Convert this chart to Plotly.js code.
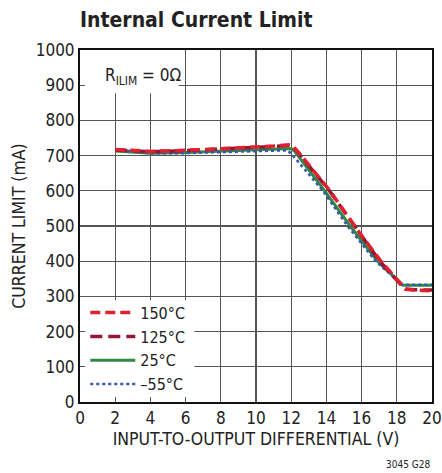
<!DOCTYPE html>
<html>
<head>
<meta charset="utf-8">
<script src="https://cdn.plot.ly/plotly-3.0.1.min.js"></script>
<style>html,body{margin:0;padding:0;background:#fff;}#chart{width:442px;height:473px;}</style>
</head>
<body>
<div id="chart"></div>
<script>
const FONT = "DejaVu Sans Condensed, Liberation Sans Narrow, Arial Narrow, sans-serif";

const xTicks = [0, 2, 4, 6, 8, 10, 12, 14, 16, 18, 20];
const yTicks = [0, 100, 200, 300, 400, 500, 600, 700, 800, 900, 1000];

const x150 = [2, 3, 4, 6, 8, 10, 11, 12, 12.3, 14.2, 15.6, 17.05, 18.5, 19, 20];
const y150 = [717, 714, 712, 715, 719, 724, 727, 731, 716, 600, 500, 403, 320, 318, 316];

const x125 = [2, 3, 4, 6, 8, 10, 11, 12, 12.3, 14.2, 15.6, 17.0, 18.45, 19, 20];
const y125 = [716, 713, 711, 714, 718, 723, 726, 729, 714, 598, 499, 402, 321, 319, 318];

const x25 = [2, 4, 6, 8, 10, 12, 12.2, 13.9, 15.35, 16.9, 18.35, 19, 20];
const y25 = [713, 707, 709, 713, 717, 720, 712, 600, 500, 400, 332, 332, 332];

const xm55 = [2, 4, 6, 8, 10, 11.8, 12.1, 13.8, 15.2, 16.8, 18.3, 19, 20];
const ym55 = [717, 707, 707, 710, 714, 715, 700, 600, 500, 400, 333, 333, 333];

const traces = [
  {x: x25, y: y25, name: "25°C", legendrank: 3, mode: "lines",
   line: {color: "#2f8a45", width: 3, dash: "solid"}},
  {x: xm55, y: ym55, name: "–55°C", legendrank: 4, mode: "lines",
   line: {color: "#3557b0", width: 2.5, dash: "dot"}},
  {x: x125, y: y125, name: "125°C", legendrank: 2, mode: "lines",
   line: {color: "#961634", width: 3.5, dash: "12px,6px"}},
  {x: x150, y: y150, name: "150°C", legendrank: 1, mode: "lines",
   line: {color: "#e0202e", width: 3.5, dash: "10px,5px"}}
];

const layout = {
  width: 442, height: 473,
  margin: {l: 80, r: 10, t: 50, b: 71},
  paper_bgcolor: "#fff", plot_bgcolor: "#fff",
  font: {family: FONT, color: "#222", size: 16},
  title: {text: "<b>Internal Current Limit</b>", x: 0.181, xanchor: "left", y: 0.958, yanchor: "middle",
          font: {family: FONT, size: 21, color: "#222"}},
  xaxis: {range: [0, 20], tickvals: xTicks, ticktext: xTicks.map(String),
          showgrid: true, gridcolor: "#555", gridwidth: 1.3,
          showline: true, linecolor: "#111", linewidth: 2, mirror: true,
          ticks: "inside", ticklen: 5, tickcolor: "#555", tickwidth: 1.3,
          zeroline: false, tickfont: {size: 17, family: FONT, color: "#222"},
          title: {text: "INPUT-TO-OUTPUT DIFFERENTIAL (V)", standoff: 5,
                  font: {size: 17.5, family: FONT, color: "#222"}}},
  yaxis: {range: [0, 1000], tickvals: yTicks, ticktext: yTicks.map(String),
          showgrid: true, gridcolor: "#555", gridwidth: 1.3,
          showline: true, linecolor: "#111", linewidth: 2, mirror: true,
          ticks: "inside", ticklen: 5, tickcolor: "#555", tickwidth: 1.3,
          zeroline: false, tickfont: {size: 17, family: FONT, color: "#222"},
          title: {text: "CURRENT LIMIT (mA)", standoff: 6,
                  font: {size: 17.5, family: FONT, color: "#222"}}},
  showlegend: true,
  legend: {x: 0.015, y: 0.302, xanchor: "left", yanchor: "top",
           bgcolor: "rgba(0,0,0,0)", borderwidth: 0, itemwidth: 45,
           font: {size: 16, family: FONT, color: "#222"}, tracegroupgap: 0},
  shapes: [
    {type: "rect", xref: "x", yref: "y", x0: 0, x1: 6.5, y0: 0, y1: 290,
     fillcolor: "#fff", line: {width: 0}, layer: "between"},
    {type: "rect", xref: "x", yref: "y", x0: 0, x1: 5.6, y0: 877, y1: 1000,
     fillcolor: "#fff", line: {width: 0}, layer: "between"}
  ],
  annotations: [
    {xref: "x", yref: "y", x: 1.3, y: 925, xanchor: "left", yanchor: "middle", showarrow: false,
     text: "R<sub>ILIM</sub> = 0Ω", font: {size: 17, family: FONT, color: "#222"}},
    {xref: "paper", yref: "paper", x: 1.0, y: -0.155, xanchor: "right", yanchor: "top", showarrow: false,
     text: "3045 G28", font: {size: 10, family: FONT, color: "#222"}}
  ]
};

Plotly.newPlot("chart", traces, layout, {displayModeBar: false, staticPlot: true});
</script>
</body>
</html>
